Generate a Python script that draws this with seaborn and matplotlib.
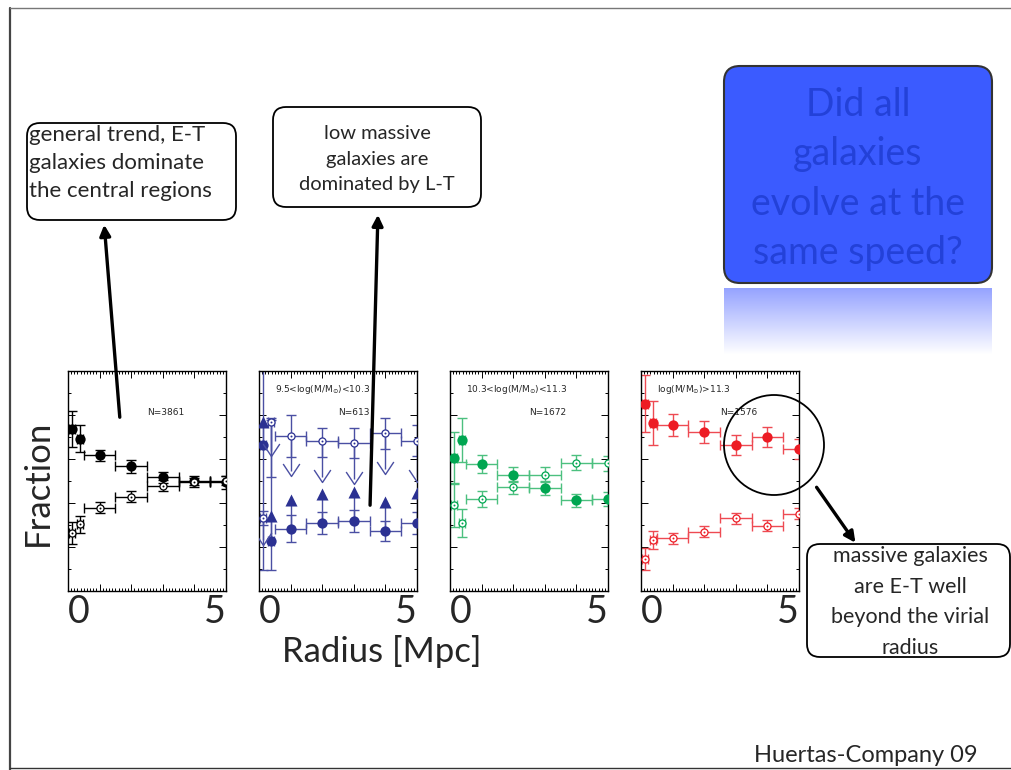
import numpy as np
import pandas as pd
import matplotlib.pyplot as plt
import seaborn as sns
from matplotlib.patches import FancyBboxPatch, FancyArrowPatch, Circle
from matplotlib.path import Path
from matplotlib.lines import Line2D
from matplotlib.ticker import MultipleLocator

# radial bins (Mpc) and their half widths
radius = [0.12, 0.38, 1, 2, 3, 4, 5]
radius_err = [0.1, 0.1, 0.5, 0.5, 0.5, 0.5, 0.5]

# all galaxies
all_et = [0.737, 0.693, 0.616, 0.566, 0.516, 0.502, 0.495]
all_et_err = [0.083, 0.063, 0.027, 0.028, 0.025, 0.02, 0.03]
all_lt = [0.262, 0.303, 0.379, 0.429, 0.479, 0.495, 0.502]
all_lt_err = [0.05, 0.04, 0.025, 0.025, 0.025, 0.02, 0.02]

# 9.5 < log M < 10.3
low_et = [0.665, 0.227, 0.284, 0.31, 0.32, 0.272, 0.31]
low_et_err = [[0.57, 0.13, 0.06, 0.05, 0.05, 0.045, 0.05],
              [0.4, 0.55, 0.06, 0.05, 0.05, 0.045, 0.05]]
low_et_lim = [0.766, 0.343, 0.414, 0.44, 0.45, 0.403, 0.444]
low_lt = [0.332, 0.766, 0.705, 0.683, 0.675, 0.716, 0.683]
low_lt_err = [[0.03, 0.25, 0.097, 0.075, 0.07, 0.07, 0.07],
              [0.03, 0.02, 0.097, 0.06, 0.065, 0.07, 0.07]]
low_lt_lim = [0.23, 0.637, 0.547, 0.517, 0.51, 0.554, 0.517]

# 10.3 < log M < 11.3
mid_et = [0.605, 0.685, 0.578, 0.529, 0.468, 0.412, 0.418]
mid_et_err = [0.12, 0.1, 0.04, 0.035, 0.03, 0.03, 0.03]
mid_lt = [0.392, 0.31, 0.418, 0.471, 0.529, 0.584, 0.58]
mid_lt_err = [0.1, 0.065, 0.035, 0.03, 0.035, 0.035, 0.035]

# log M > 11.3
high_et = [0.851, 0.764, 0.755, 0.723, 0.663, 0.699, 0.646]
high_et_err = [0.13, 0.1, 0.05, 0.05, 0.045, 0.045, 0.045]
high_lt = [0.144, 0.231, 0.239, 0.269, 0.331, 0.296, 0.351]
high_lt_err = [0.05, 0.04, 0.025, 0.025, 0.025, 0.025, 0.025]

panel_labels = ["", "9.5<log(M/M$_{\\odot}$)<10.3",
                "10.3<log(M/M$_{\\odot}$)<11.3", "log(M/M$_{\\odot}$)>11.3"]
panel_counts = ["N=3861", "N=613", "N=1672", "N=1576"]
mark_colors = ["black", "#2B3192", "#00A651", "#ED1C24"]
bar_colors = ["black", "#4A4FA3", "#4CC07F", "#EE4A52"]

sns.set_style("ticks")
plt.rcParams["font.family"] = ["Lato", "DejaVu Sans"]

W, H = 1012, 770
fig = plt.figure(figsize=(W / 100, H / 100), dpi=100)
fig.patch.set_facecolor("white")


def px(x, y):
    # pixel position -> inches for fig.dpi_scale_trans
    return x / 100, (H - y) / 100


def draw_panel(ax, et, et_err, lt, lt_err, mcol, bcol):
    ax.errorbar(radius, et, yerr=et_err, xerr=radius_err, fmt="none",
                ecolor=bcol, elinewidth=1, capsize=3.5, capthick=1, zorder=2)
    ax.errorbar(radius, lt, yerr=lt_err, xerr=radius_err, fmt="none",
                ecolor=bcol, elinewidth=1, capsize=3.5, capthick=1, zorder=2)
    df = pd.DataFrame({"radius": radius, "et": et, "lt": lt})
    sns.scatterplot(data=df, x="radius", y="et", ax=ax, color=mcol, s=55,
                    linewidth=0, zorder=4)
    sns.scatterplot(data=df, x="radius", y="lt", ax=ax, color=mcol, s=26,
                    linewidth=0.9, zorder=4)
    ax.collections[-1].set_facecolor("white")
    ax.collections[-1].set_edgecolor(mcol)
    sns.scatterplot(data=df, x="radius", y="lt", ax=ax, color=mcol, s=2,
                    linewidth=0, zorder=5)


left_px = [68, 259, 450, 641]
panels = [(all_et, all_et_err, all_lt, all_lt_err),
          (low_et, low_et_err, low_lt, low_lt_err),
          (mid_et, mid_et_err, mid_lt, mid_lt_err),
          (high_et, high_et_err, high_lt, high_lt_err)]

chevron = Path([(-1, 0.9), (0, -0.6), (1, 0.9)],
               [Path.MOVETO, Path.LINETO, Path.LINETO])

for i, (et, ete, lt, lte) in enumerate(panels):
    ax = fig.add_axes([left_px[i] / W, 1 - 591 / H, 158 / W, 220 / H])
    draw_panel(ax, et, ete, lt, lte, mark_colors[i], bar_colors[i])
    if i == 1:
        ax.vlines(radius, low_et, low_et_lim, color=bar_colors[i], lw=1, zorder=2)
        ax.vlines(radius, low_lt, low_lt_lim, color=bar_colors[i], lw=1, zorder=2)
        lim_df = pd.DataFrame({"radius": radius, "up": low_et_lim})
        sns.scatterplot(data=lim_df, x="radius", y="up", ax=ax, marker="^",
                        color=mark_colors[i], s=75, linewidth=0, zorder=4)
        ax.plot(radius, low_lt_lim, linestyle="none", marker=chevron,
                markersize=12, markerfacecolor="none",
                markeredgecolor=bar_colors[i], markeredgewidth=1, zorder=4)
    ax.set_xlim(0, 5)
    ax.set_ylim(0, 1)
    ax.set_xlabel("")
    ax.set_ylabel("")
    ax.set_xticks([0, 1, 2, 3, 4, 5])
    ax.set_xticklabels(["0", "", "", "", "", "5"])
    tl = ax.get_xticklabels()
    tl[0].set_ha("left")
    tl[-1].set_ha("right")
    ax.xaxis.set_minor_locator(MultipleLocator(0.1))
    ax.yaxis.set_major_locator(MultipleLocator(0.2))
    ax.yaxis.set_minor_locator(MultipleLocator(0.1))
    ax.set_yticklabels([])
    ax.tick_params(which="both", direction="in", top=True, right=True,
                   color="black", width=0.7)
    ax.tick_params(which="major", length=5, labelsize=27, pad=2)
    ax.tick_params(which="minor", length=2.5)
    for sp in ax.spines.values():
        sp.set_color("black")
        sp.set_linewidth(1)
    if panel_labels[i]:
        ax.text(0.5, 0.915, panel_labels[i], fontsize=6.5, family="DejaVu Sans",
                va="center", ha="left")
    ax.text(2.5, 0.81, panel_counts[i], fontsize=6.5, family="DejaVu Sans",
            va="center", ha="left")

# axis titles
fig.text(38 / W, 1 - 483 / H, "Fraction", rotation=90, ha="center",
         va="center", fontsize=25)
fig.text(382 / W, 1 - 652 / H, "Radius [Mpc]", ha="center", va="center",
         fontsize=25)

# slide frame
fig.add_artist(Line2D([10 / W, 10 / W], [0, 1 - 8 / H], color="#444444", lw=1.6))
fig.add_artist(Line2D([10 / W, 1], [1 - 8 / H, 1 - 8 / H], color="#777777", lw=1))
fig.add_artist(Line2D([10 / W, 1], [1 - 768 / H, 1 - 768 / H], color="#333333", lw=1))

tr = fig.dpi_scale_trans


def callout(x0, y0, x1, y1, face="white", edge="black", r=0.13, lw=1.3):
    a = px(x0, y1)
    box = FancyBboxPatch(a, (x1 - x0) / 100, (y1 - y0) / 100,
                         boxstyle=f"round,pad=0,rounding_size={r}",
                         transform=tr, facecolor=face, edgecolor=edge,
                         linewidth=lw, zorder=6)
    fig.add_artist(box)


callout(27, 123, 236, 220)
fig.text(*px(29, 163), "general trend, E-T\ngalaxies dominate\nthe central regions",
         transform=tr, ha="left", va="center", fontsize=16, linespacing=1.52,
         zorder=7)

callout(273, 107, 481, 207)
fig.text(*px(377, 159), "low massive\ngalaxies are\ndominated by L-T",
         transform=tr, ha="center", va="center", fontsize=14.5, linespacing=1.63,
         zorder=7)

callout(807, 544, 1010, 657)
fig.text(*px(910, 602), "massive galaxies\nare E-T well\nbeyond the virial\nradius",
         transform=tr, ha="center", va="center", fontsize=15.5, linespacing=1.65,
         zorder=7)

# question box and its reflection
callout(724, 66, 992, 283, face="#3B5BFF", edge="#333333", r=0.16, lw=1.5)
fig.text(*px(858, 179), "Did all\ngalaxies\nevolve at the\nsame speed?",
         transform=tr, ha="center", va="center", fontsize=27, linespacing=1.45,
         color="#2341D8", zorder=7)

grad = np.linspace(0.75, 0.0, 64)[:, None] * np.ones((1, 10))
cmap_img = np.zeros((64, 10, 4))
cmap_img[..., 0] = 0.45
cmap_img[..., 1] = 0.52
cmap_img[..., 2] = 1.0
cmap_img[..., 3] = grad
rax = fig.add_axes([724 / W, 1 - 355 / H, 268 / W, 67 / H])
rax.imshow(cmap_img, aspect="auto", extent=(0, 1, 0, 1))
rax.axis("off")

# highlight circle on the massive panel
fig.add_artist(Circle(px(774, 445), 0.5, transform=tr, fill=False,
                      edgecolor="black", lw=1.3, zorder=6))

# arrows
for tail, head in [((120, 420), (104, 222)), ((370, 508), (378, 212)),
                   ((815, 485), (857, 545))]:
    fig.add_artist(FancyArrowPatch(px(*tail), px(*head), transform=tr,
                                   arrowstyle="-|>", mutation_scale=16,
                                   lw=2.4, color="black", zorder=8))

fig.text(*px(866, 756), "Huertas-Company 09", transform=tr, ha="center",
         va="center", fontsize=17)

fig.savefig("out.png", dpi=100)
